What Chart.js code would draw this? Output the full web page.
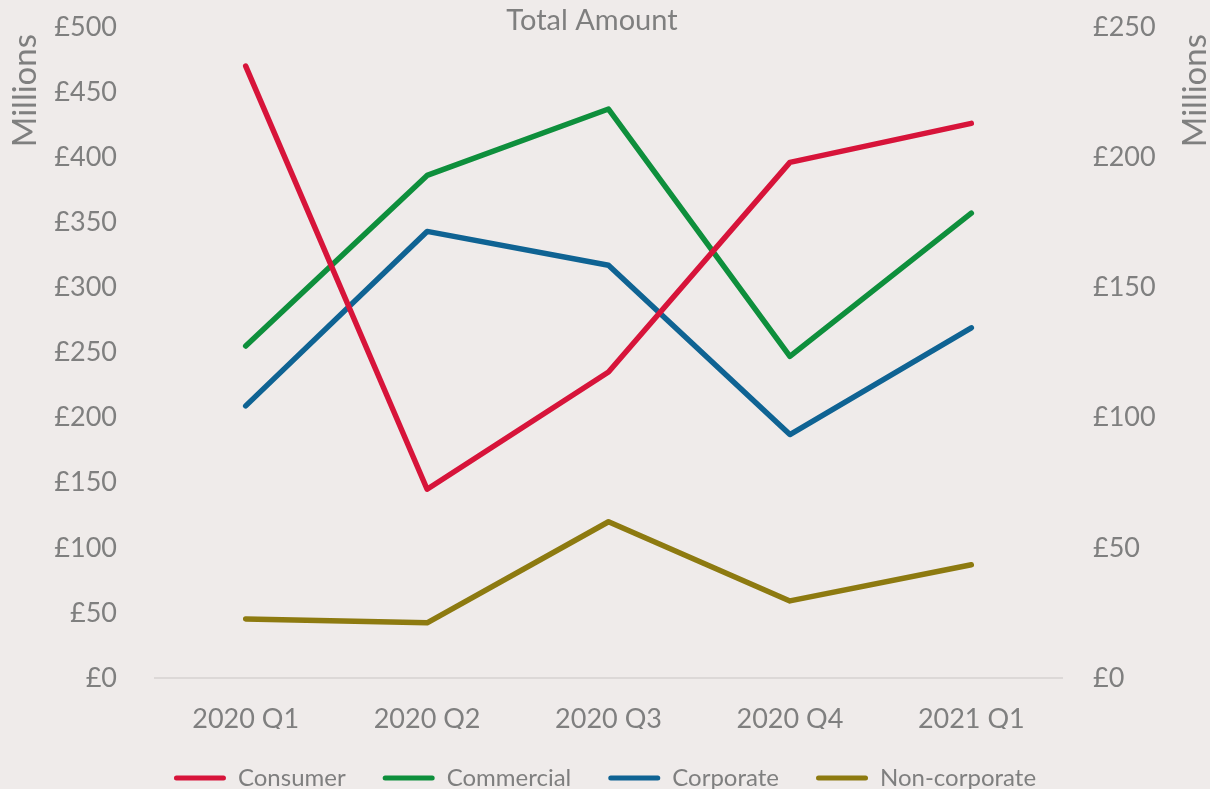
<!DOCTYPE html>
<html>
<head>
<meta charset="utf-8">
<script src="https://cdn.jsdelivr.net/npm/chart.js@4/dist/chart.umd.min.js"></script>
<style>
  html, body { margin: 0; padding: 0; background: #efebea; overflow: hidden; }
  #wrap { position: relative; width: 1210px; height: 800px; }
</style>
</head>
<body>
<div id="wrap"><canvas id="c" width="1210" height="800"></canvas></div>
<script>
const categories = ['2020 Q1', '2020 Q2', '2020 Q3', '2020 Q4', '2021 Q1'];
const consumer = [470, 145, 235, 396, 426];
const commercial = [255, 386, 437, 247, 357];
const corporate = [209, 343, 317, 187, 269];
const nonCorporate = [22.7, 21.2, 60, 29.6, 43.5];
const seriesNames = ['Consumer', 'Commercial', 'Corporate', 'Non-corporate'];
const seriesColors = ['#d7143a', '#0e8f3c', '#0f6393', '#8d7a10'];
const chartTitle = 'Total Amount';
const axisTitle = 'Millions';

const GRAY = '#7f7f7f';
const FONT = 'Lato, "Noto Sans", sans-serif';

const titlesPlugin = {
  id: 'titles',
  afterDraw(chart) {
    const ctx = chart.ctx;
    ctx.save();
    ctx.fillStyle = GRAY;
    ctx.font = '29px ' + FONT;
    ctx.textAlign = 'center';
    ctx.textBaseline = 'middle';
    ctx.fillText(chartTitle, 592, 21);
    ctx.font = '33px ' + FONT;
    ctx.textAlign = 'right';
    [25, 1195].forEach(x => {
      ctx.save();
      ctx.translate(x, 34);
      ctx.rotate(-Math.PI / 2);
      ctx.fillText(axisTitle, 0, 0);
      ctx.restore();
    });
    ctx.restore();
  }
};

const mk = (i, data, axis) => ({
  label: seriesNames[i],
  data: data,
  yAxisID: axis,
  borderColor: seriesColors[i],
  backgroundColor: seriesColors[i],
  borderWidth: 5.5,
  borderCapStyle: 'round',
  borderJoinStyle: 'round',
  pointRadius: 0,
  pointHoverRadius: 0,
  tension: 0
});

new Chart(document.getElementById('c'), {
  type: 'line',
  data: {
    labels: categories,
    datasets: [
      mk(0, consumer, 'y'),
      mk(1, commercial, 'y'),
      mk(2, corporate, 'y'),
      mk(3, nonCorporate, 'y1')
    ]
  },
  plugins: [titlesPlugin],
  options: {
    responsive: false,
    animation: false,
    layout: { padding: { top: 27, left: 0, right: 0, bottom: 0 } },
    plugins: {
      title: { display: false },
      tooltip: { enabled: false },
      legend: {
        position: 'bottom',
        labels: {
          color: GRAY,
          font: { family: FONT, size: 24 },
          boxWidth: 52,
          boxHeight: 5,
          padding: 37,
          useBorderRadius: true,
          borderRadius: 2.5,
          generateLabels(chart) {
            const items = Chart.defaults.plugins.legend.labels.generateLabels(chart);
            items.forEach(it => { it.lineWidth = 0; it.fillStyle = it.strokeStyle; it.borderRadius = 2.5; });
            return items;
          }
        }
      }
    },
    scales: {
      x: {
        offset: true,
        grid: { display: false, drawTicks: false },
        border: { display: true, color: '#dcd8d7', width: 2 },
        ticks: { color: GRAY, font: { family: FONT, size: 27 }, padding: 25, maxRotation: 0 },
        afterFit(s) { s.height = 51; }
      },
      y: {
        position: 'left',
        min: 0, max: 500,
        grid: { display: false, drawTicks: false },
        border: { display: false },
        ticks: { stepSize: 50, color: GRAY, font: { family: FONT, size: 27 }, padding: 38,
          callback: v => '£' + v },
        afterFit(s) { s.width = 155; s.paddingTop = 0; s.paddingBottom = 0; }
      },
      y1: {
        position: 'right',
        min: 0, max: 250,
        grid: { display: false, drawTicks: false },
        border: { display: false },
        ticks: { stepSize: 50, color: GRAY, font: { family: FONT, size: 27 }, padding: 31,
          callback: v => '£' + v },
        afterFit(s) { s.width = 148; s.paddingTop = 0; s.paddingBottom = 0; }
      }
    }
  }
});
</script>
</body>
</html>
